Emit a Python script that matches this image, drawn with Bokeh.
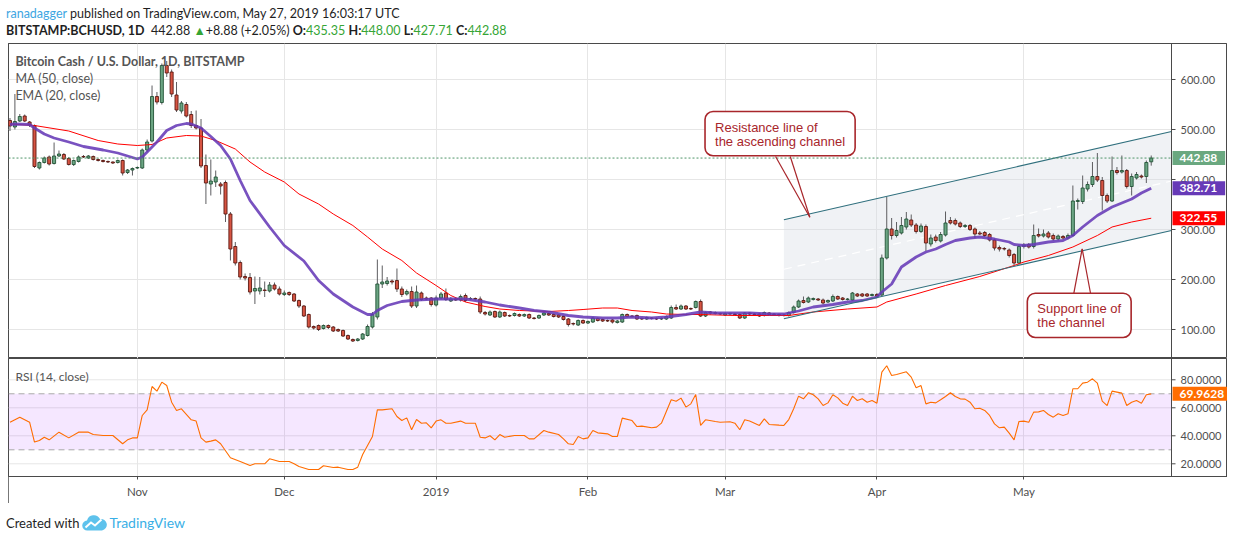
import numpy as np
import pandas as pd
from bokeh.plotting import figure
from bokeh.models import Range1d, FixedTicker, Label, Span, Div, BoxAnnotation
from bokeh.layouts import column
from bokeh.embed import file_html
from bokeh.resources import INLINE

# ---------------- data ----------------
dates = pd.date_range("2018-10-06", periods=234, freq="D")

opens = [518,505,517,527,515,508,423,434,445,432,447,450,442,430,436,446,443,446,440,438,
         436,435,434,438,414,419,423,423,459,477,566,554,628,615,569,537,550,530,508,503,
         428,391,395,391,394,331,266,234,206,204,177,177,179,177,189,181,170,174,171,158,
         147,130,106,108,102,108,105,100,98,88,80,78,81,88,105,125,191,192,197,198,
         181,171,176,147,173,163,163,149,163,173,157,161,159,168,161,162,161,134,129,136,
         125,134,128,128,130,127,130,123,123,129,132,130,129,126,121,112,109,118,113,115,
         122,120,118,119,114,115,130,127,128,122,121,123,122,121,121,123,144,141,147,142,
         144,156,127,135,134,132,129,131,131,130,123,133,131,131,128,133,131,130,128,128,
         134,145,158,155,160,161,159,155,157,166,163,160,159,171,171,171,168,170,169,243,
         301,288,293,305,319,309,296,306,271,285,277,289,318,318,313,306,308,301,293,294,
         290,279,264,262,259,250,233,266,270,266,290,287,293,288,281,286,283,288,356,356,
         381,390,406,398,368,357,418,415,418,386,403,407,406,435.35]
highs = [523,571,531,530,517,510,436,446,448,474,458,453,445,440,448,449,449,448,442,440,
         438,436,440,440,421,424,426,462,480,588,575,632,637,620,595,557,555,537,538,521,
         450,440,418,395,398,335,275,238,212,213,206,205,196,195,194,186,178,176,173,160,
         149,132,108,110,110,110,107,102,100,90,82,83,93,110,135,240,228,205,200,222,
         186,180,186,188,176,166,165,168,175,182,165,163,170,172,165,164,166,137,138,138,
         138,136,130,134,132,132,132,125,130,135,134,132,131,128,123,114,120,120,118,125,
         124,122,120,121,119,132,132,129,130,124,126,125,124,124,128,148,150,150,149,144,
         158,160,136,137,136,134,134,134,133,132,135,135,133,133,136,135,133,132,131,136,
         148,160,166,166,164,163,162,160,170,168,165,163,175,173,173,173,172,173,250,365,
         323,315,325,335,330,313,312,310,290,290,295,336,325,322,316,311,311,304,297,297,
         293,282,268,265,262,253,270,273,273,310,302,300,297,292,290,289,292,388,362,408,
         396,435,453,405,372,446,425,448,421,412,415,410,438,448]
lows = [497,500,515,515,505,423,420,432,428,430,445,439,428,427,434,443,441,438,436,434,
        433,431,432,408,411,408,421,421,455,474,550,550,605,565,535,532,524,503,500,423,
        351,368,385,370,315,238,228,200,198,170,151,170,165,174,178,168,167,167,155,143,
        125,102,100,97,100,101,95,95,85,79,75,76,79,86,102,120,183,188,190,175,
        165,168,143,143,157,159,146,146,160,157,155,157,156,155,159,158,131,128,127,123,
        123,125,125,126,125,125,121,120,121,127,127,124,123,118,106,108,107,111,111,113,
        116,115,115,112,112,113,124,124,119,119,119,120,119,119,119,121,139,139,139,139,
        142,125,125,130,130,129,127,129,128,121,121,129,128,125,126,128,128,126,126,126,
        132,143,152,153,158,157,150,153,155,159,158,158,157,165,165,165,166,165,167,240,
        280,284,290,300,305,292,293,257,266,274,274,286,310,308,303,303,297,283,289,285,
        276,258,256,258,244,228,230,262,262,262,284,284,282,278,278,280,280,286,340,351,
        376,385,395,338,353,355,410,412,382,368,400,402,393,427.71]
closes = [507,516,526,517,509,426,434,443,431,447,451,441,430,438,445,445,447,440,438,436,
          435,433,438,413,419,422,424,459,475,566,555,628,613,571,539,553,527,508,503,427,
          393,397,405,387,331,261,233,205,203,175,182,183,178,189,181,171,173,170,157,147,
          127,105,103,100,108,104,97,97,87,81,77,81,91,106,130,191,195,197,195,181,
          170,176,147,175,160,161,150,163,171,160,161,159,166,158,162,161,135,131,135,125,
          135,127,127,132,127,130,123,122,128,133,129,126,125,120,110,111,118,113,116,123,
          118,117,117,115,117,130,126,126,121,121,124,122,121,122,126,144,141,147,141,141,
          156,127,134,133,132,131,132,132,130,123,133,131,130,127,134,130,130,128,129,134,
          145,157,154,163,162,159,153,158,166,161,160,161,173,167,167,167,170,167,243,301,
          288,298,308,321,309,296,307,273,283,278,290,313,313,311,306,308,300,291,291,288,
          279,263,261,261,248,233,266,269,265,288,287,291,285,281,287,283,288,357,358,383,
          390,406,399,368,357,418,414,418,386,406,410,405,434,442.88]

ema_points = [(0,510),(1,511),(4,510),(5,503),(7,491),(9,483),(12,475),(15,466),(19,459),(22,453),
              (26,441),(27,445),(28,455),(30,475),(32,498),(34,508),(36,512),(37,511),(39,503),
              (41,486),(43,468),(45,441),(47,398),(49,358),(53,305),(56,268),(60,237),(63,198),
              (66,171),(70,145),(73,130),(74,130),(75,138),(77,148),(80,156),(83,159),(87,161),
              (90,161),(93,161),(97,155),(100,149),(104,143),(107,138),(110,135),(114,128),
              (117,125),(121,123),(124,123),(127,125),(131,123),(134,125),(138,130),(141,135),
              (144,133),(148,133),(151,133),(155,131),(158,131),(161,137),(164,145),(168,150),
              (171,155),(174,158),(177,165),(178,175),(180,191),(182,225),(185,245),(187,255),
              (189,261),(191,270),(193,278),(196,283),(198,285),(201,281),(204,275),(205,270),
              (207,268),(209,270),(212,275),(215,278),(217,288),(219,305),(222,328),(225,345),
              (229,361),(231,373),(233,382.71)]
ma_points = [(0,511),(5,508),(12,497),(18,478),(22,471),(26,468),(29,470),(32,483),(36,488),
             (39,487),(42,478),(46,461),(49,435),(52,415),(56,395),(59,371),(63,351),(66,331),
             (70,308),(73,285),(76,261),(80,238),(83,213),(87,188),(90,168),(93,155),(97,146),
             (100,141),(104,138),(107,137),(110,136),(114,138),(117,140),(121,143),(124,143),
             (127,138),(131,135),(134,131),(138,130),(141,130),(148,128),(155,128),(159,128),
             (164,135),(171,141),(177,145),(179,155),(185,171),(191,188),(198,206),(205,228),
             (207,235),(212,248),(217,265),(222,288),(225,305),(229,315),(233,322.55)]
rsi_points = [(0,49.7),(2,53.3),(4,49.7),(5,35.5),(6,36.6),(7,39.0),(8,37.1),(10,42.6),(12,38.5),
              (14,42.6),(16,42.6),(17,40.9),(19,40.2),(21,40.2),(23,34.3),(24,37.1),(25,38.5),
              (26,38.5),(27,54.5),(28,58.5),(29,75.2),(30,71.9),(31,78.3),(32,75.9),(33,64.0),
              (34,58.1),(35,59.3),(37,51.4),(38,50.5),(39,38.5),(40,35.5),(41,36.2),(42,37.1),
              (43,34.3),(45,24.3),(47,21.6),(49,18.8),(50,20.0),(52,20.0),(53,23.6),(55,21.6),
              (57,21.6),(58,20.0),(59,18.1),(61,15.9),(63,15.9),(64,18.6),(66,17.4),(67,17.6),
              (69,15.9),(70,15.9),(71,17.6),(72,26.6),(74,39.5),(75,58.5),(76,58.5),(78,59.3),
              (79,53.8),(80,50.9),(81,52.8),(82,44.3),(83,51.6),(84,49.0),(85,49.3),(86,45.7),
              (87,50.5),(88,51.4),(89,49.0),(90,49.0),(92,50.5),(93,49.0),(95,49.0),(96,39.0),
              (97,38.5),(98,40.0),(99,37.1),(100,40.9),(101,39.0),(103,40.2),(105,40.2),
              (106,37.8),(107,37.8),(109,43.8),(110,42.6),(112,40.9),(113,37.8),(114,34.3),
              (115,33.8),(116,39.5),(117,37.8),(118,38.5),(119,43.8),(120,42.1),(122,41.4),
              (123,39.5),(124,39.5),(125,52.6),(127,50.9),(128,46.6),(129,46.9),(131,45.7),
              (132,46.2),(133,49.0),(135,65.7),(136,64.7),(137,66.9),(138,60.5),(139,62.8),
              (140,69.5),(141,47.4),(142,51.4),(144,50.2),(145,49.7),(147,50.0),(148,49.0),
              (149,44.3),(150,51.4),(151,50.5),(153,47.4),(154,52.1),(155,48.1),(157,47.6),
              (158,47.4),(159,51.6),(160,59.3),(161,68.3),(162,66.4),(163,70.7),(164,69.3),
              (165,66.4),(166,61.6),(167,63.5),(168,69.3),(169,67.1),(170,63.3),(171,61.6),
              (172,68.3),(173,65.2),(174,66.4),(175,64.0),(176,65.2),(177,63.3),(178,85.5),
              (179,90.0),(180,83.1),(181,83.8),(183,85.7),(184,81.9),(185,74.3),(186,75.9),
              (187,62.8),(188,64.0),(189,63.5),(190,65.7),(191,68.1),(192,70.7),(193,68.1),
              (194,66.4),(195,66.2),(196,64.0),(197,59.3),(198,59.7),(199,58.1),(200,54.5),
              (201,48.5),(202,45.7),(203,46.2),(204,41.9),(205,37.1),(206,50.2),(207,50.5),
              (208,49.7),(209,56.9),(210,57.1),(211,58.1),(212,55.2),(213,53.3),(214,55.7),
              (215,54.5),(216,55.7),(217,73.6),(218,73.6),(219,77.6),(220,78.3),(221,80.7),
              (222,77.6),(223,64.7),(224,61.6),(225,71.9),(226,71.2),(227,70.5),(228,61.6),
              (229,64.0),(230,65.2),(231,63.3),(232,69.3),(233,69.9628)]

price_ticks = [100, 200, 300, 400, 500, 600]
rsi_ticks = [20, 40, 60, 80]
rsi_bands = [30, 70]

# ascending channel drawing (anchor points: bar index, price)
chan_x = [158.0, 237.14]
chan_upper = [319.5, 496.0]
chan_lower = [121.5, 298.0]

# callouts
resist_text = "Resistance line of\nthe ascending channel"
support_text = "Support line of\nthe channel"

# ---------------- styling ----------------
UP, UP_B = "#6ba583", "#225437"
DN, DN_B = "#d75442", "#5b1a13"
WICK = "#5d5d60"
EMA_C, MA_C, RSI_C = "#673ab7", "#ff0000", "#ff6d00"
GRID = "#e6e6e6"
BORDER = "#4a4a4a"
AX_TXT = "#4f4f4f"
FONT = "Lato"
CALLOUT = "#a8262b"

BAR_PX = 4.898                 # pixels per bar
FIG_W = 1219
X0 = -0.306
xr = Range1d(X0, X0 + FIG_W / BAR_PX)
AXIS_X = 237.14                # price-scale edge (bar units)
TICK = 4 / BAR_PX

month_idx = [i for i, d in enumerate(dates) if d.day == 1]
month_lbl = {i: (str(dates[i].year) if dates[i].month == 1 else dates[i].strftime("%b"))
             for i in month_idx}


def mk_label(**kw):
    try:
        return Label(**kw)
    except Exception:
        kw["padding"] = 4
        return Label(**kw)


def style_panel(f, ticks, fmt):
    f.outline_line_color = BORDER
    f.outline_line_width = 1
    f.background_fill_color = "white"
    f.border_fill_color = "white"
    f.xgrid.ticker = FixedTicker(ticks=month_idx)
    f.xgrid.grid_line_color = GRID
    f.ygrid.visible = False
    try:
        f.styles = {"outline": "1px solid " + BORDER, "outline-offset": "-1px"}
    except Exception:
        pass
    # horizontal grid up to the price scale
    f.segment(x0=[xr.start] * len(ticks), x1=[AXIS_X] * len(ticks), y0=ticks, y1=ticks,
              line_color=GRID, line_width=1, level="underlay")
    # scale line, tick marks and labels
    f.add_layout(Span(location=AXIS_X, dimension="height", line_color=BORDER, line_width=1))
    f.segment(x0=[AXIS_X] * len(ticks), x1=[AXIS_X + TICK] * len(ticks), y0=ticks, y1=ticks,
              line_color=BORDER, line_width=1)
    for t in ticks:
        f.add_layout(Label(x=AXIS_X, y=t, x_offset=9, text=fmt % t, text_font=FONT,
                           text_font_size="11px", text_color=AX_TXT,
                           text_align="left", text_baseline="middle"))


def value_box(f, val, text, col, pad_r=8):
    f.add_layout(mk_label(x=AXIS_X, y=val, x_offset=1, text=text, text_font=FONT,
                          text_font_size="12px", text_font_style="bold", text_color="white",
                          text_align="left", text_baseline="middle",
                          background_fill_color=col,
                          padding=dict(left=7, right=pad_r, top=3, bottom=3)))


# ---------------- price panel ----------------
p = figure(width=FIG_W, height=315, x_range=xr, y_range=Range1d(42, 672),
           output_backend="svg", toolbar_location=None, y_axis_location=None,
           x_axis_location=None, min_border_left=0, min_border_right=0,
           min_border_top=0, min_border_bottom=0, margin=(0, 0, 0, 8))
style_panel(p, price_ticks, "%.2f")

# channel fill + mid line
p.patch(x=chan_x + chan_x[::-1], y=chan_upper + chan_lower[::-1],
        fill_color="#d3d9e2", fill_alpha=0.35, line_color=None)
mid = [(a + b) / 2 for a, b in zip(chan_upper, chan_lower)]
p.line(chan_x, mid, line_color="white", line_width=1.2, line_dash="8 6")

idx = np.arange(len(closes))
o = np.array(opens, float); c = np.array(closes, float)
h = np.array(highs, float); l = np.array(lows, float)
up = c >= o
p.segment(idx, l, idx, h, line_color=WICK, line_width=1)
p.vbar(idx[up], width=0.62, bottom=o[up], top=c[up], fill_color=UP,
       line_color=UP_B, line_width=0.9)
p.vbar(idx[~up], width=0.62, bottom=c[~up], top=o[~up], fill_color=DN,
       line_color=DN_B, line_width=0.9)

mx, my = zip(*ma_points)
p.line(list(mx), list(my), line_color=MA_C, line_width=1)
ex, ey = zip(*ema_points)
p.line(list(ex), list(ey), line_color=EMA_C, line_width=2.8, line_alpha=0.88)

p.line(chan_x, chan_upper, line_color="#2f6f7d", line_width=1.1)
p.line(chan_x, chan_lower, line_color="#2f6f7d", line_width=1.1)

# last-price dotted line
p.segment(x0=[xr.start], x1=[AXIS_X], y0=[closes[-1]], y1=[closes[-1]],
          line_color="#4f9468", line_dash="2 2", line_width=1)

# legend texts
for txt, yy, bold in [("Bitcoin Cash / U.S. Dollar, 1D, BITSTAMP", 636.6, True),
                      ("MA (50, close)", 602.6, False),
                      ("EMA (20, close)", 568.6, False)]:
    p.add_layout(Label(x=1.1, y=yy, text=txt, text_font=FONT, text_font_size="12.5px",
                       text_font_style="bold" if bold else "normal",
                       text_color="#555555", text_baseline="middle", text_align="left"))

# callouts (box anchored at its top-left corner)
p.line([156.3, 163.3], [446, 324.6], line_color=CALLOUT, line_width=1.2)
p.line([159.3, 163.3], [446, 324.6], line_color=CALLOUT, line_width=1.2)
p.line([217.2, 218.9], [172.6, 261.4], line_color=CALLOUT, line_width=1.2)
p.line([220.6, 218.9], [172.6, 261.4], line_color=CALLOUT, line_width=1.2)
for txt, xx, yy in [(resist_text, 141.9, 536.0), (support_text, 207.7, 172.6)]:
    p.add_layout(mk_label(x=xx, y=yy, text=txt, text_font="Liberation Sans",
                          text_font_size="13px", text_color=CALLOUT, text_align="left",
                          text_baseline="top", text_line_height=0.95,
                          background_fill_color="white", border_line_color=CALLOUT,
                          border_line_width=1.6, border_radius=8,
                          padding=dict(left=10, right=10, top=8, bottom=7)))

# right-side value boxes
value_box(p, closes[-1], "%.2f" % closes[-1], "#6aa880")
value_box(p, ema_points[-1][1], "%.2f" % ema_points[-1][1], EMA_C)
value_box(p, ma_points[-1][1], "%.2f" % ma_points[-1][1], MA_C)

# ---------------- RSI panel ----------------
r = figure(width=FIG_W, height=145, x_range=xr, y_range=Range1d(10.93, 95.2),
           output_backend="svg", toolbar_location=None, y_axis_location=None,
           min_border_left=0, min_border_right=0, min_border_top=0, min_border_bottom=27,
           margin=(0, 0, 0, 8))
band = BoxAnnotation(bottom=rsi_bands[0], top=rsi_bands[1], right=AXIS_X, fill_color="#9915ff",
                     fill_alpha=0.1, line_color=None, level="underlay")
r.add_layout(band)
style_panel(r, rsi_ticks, "%.4f")
xa = r.xaxis[0]
xa.ticker = FixedTicker(ticks=month_idx)
xa.major_label_overrides = month_lbl
xa.axis_line_color = BORDER
xa.major_tick_line_color = BORDER
xa.major_tick_out = 3
xa.major_tick_in = 0
xa.minor_tick_line_color = None
xa.major_label_text_font = FONT
xa.major_label_text_font_size = "11.5px"
xa.major_label_text_color = AX_TXT
xa.major_label_standoff = 5

for b in rsi_bands:
    r.segment(x0=[xr.start], x1=[AXIS_X], y0=[b], y1=[b], line_color="#a9a9a9",
              line_dash="6 4", line_width=1)
rx, ry = zip(*rsi_points)
r.line(list(rx), list(ry), line_color=RSI_C, line_width=1.1)

r.add_layout(Label(x=1.1, y=82.6, text="RSI (14, close)", text_font=FONT,
                   text_font_size="12px", text_color="#555555", text_baseline="middle"))
value_box(r, rsi_points[-1][1], "%.4f" % rsi_points[-1][1], "#ff6d00", pad_r=6)

# ---------------- header / footer ----------------
G = "#35a535"
chg = closes[-1] - closes[-2]
pct = chg / closes[-2] * 100
header_html = (
    '<div style="font-family:Lato; font-size:12.5px; color:#1f1f1f; line-height:17px; '
    'position:relative; top:-3px; left:-2px; white-space:nowrap;">'
    '<div><span style="color:#3ea6e2">ranadagger</span> published on TradingView.com, '
    'May 27, 2019 16:03:17 UTC</div>'
    f'<div><b>BITSTAMP:BCHUSD, 1D</b>&nbsp; {closes[-1]:.2f} '
    f'<span style="color:{G}">&#9650;</span>{chg:+.2f} ({pct:+.2f}%) '
    f'<b>O:</b><span style="color:{G}">{opens[-1]:.2f}</span> '
    f'<b>H:</b><span style="color:{G}">{highs[-1]:.2f}</span> '
    f'<b>L:</b><span style="color:{G}">{lows[-1]:.2f}</span> '
    f'<b>C:</b><span style="color:{G}">{closes[-1]:.2f}</span></div></div>'
)
header = Div(text=header_html, width=FIG_W, height=35, margin=(8, 0, 0, 8))

logo = ('<svg width="26" height="16" viewBox="0 0 26 16" style="margin:0 1px 0 3px">'
        '<path d="M5.5 15.5 a5 5 0 0 1 -0.5 -10 a7 7 0 0 1 13 -1.5 a5.6 5.6 0 0 1 2 11.5 z" '
        'fill="#5ec2ec"/><polyline points="3.5,12.5 9,7.5 13,10.5 19.5,4.5" stroke="#ffffff" '
        'fill="none" stroke-width="2"/></svg>')
footer_html = (
    '<div style="font-family:Lato; font-size:13px; color:#1f1f1f; display:flex; '
    'align-items:center; position:relative; left:-2px; top:10px; white-space:nowrap;">'
    'Created with' + logo + '<span style="color:#39afe6; font-size:14px">TradingView</span></div>'
)
footer = Div(text=footer_html, width=FIG_W, height=28, margin=(0, 0, 0, 8))

layout = column(header, p, r, footer, spacing=0)
open("out.html", "w").write(file_html(layout, INLINE))
